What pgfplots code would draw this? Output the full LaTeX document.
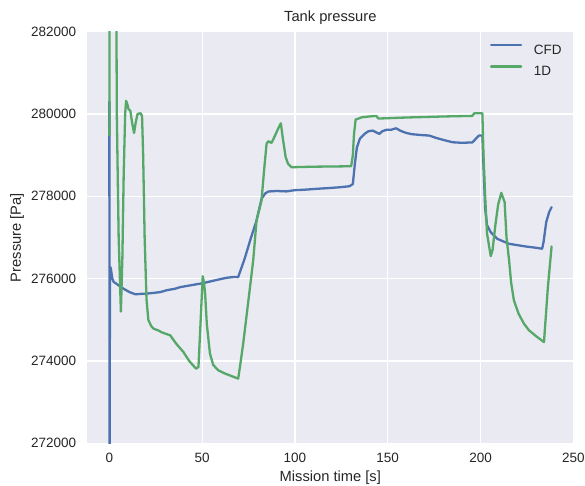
\documentclass[border=0pt]{standalone}
\usepackage{fontspec}
\setmainfont{Liberation Sans}
\usepackage{pgfplots}
\pgfplotsset{compat=1.18}
\definecolor{sbblue}{HTML}{4C72B0}
\definecolor{sbgreen}{HTML}{55A868}
\definecolor{sbbg}{HTML}{EAEAF2}
\definecolor{sbtext}{HTML}{262626}
\begin{document}
\begin{tikzpicture}
\begin{axis}[
  name=ax,
  scale only axis,
  width=486pt, height=411.6pt,
  xmin=-11.9, xmax=250, ymin=272000, ymax=282000,
  axis background/.style={fill=sbbg},
  axis line style={draw=none},
  major tick length=0pt,
  tick style={draw=none},
  grid=major,
  major grid style={white, line width=1.1pt},
  xtick={0,50,100,150,200,250},
  ytick={272000,274000,276000,278000,280000,282000},
  scaled y ticks=false,
  y tick label style={/pgf/number format/fixed, /pgf/number format/1000 sep={}},
  /pgf/number format/assume math mode=true,
  tick label style={font=\fontsize{13.5}{16}\selectfont, text=sbtext, inner sep=0pt},
  x tick label style={anchor=north, yshift=-9.5pt},
  y tick label style={anchor=east, xshift=-11pt},
  legend style={draw=none, fill=none, at={(1,1)}, anchor=north east, xshift=-11.6pt, yshift=-12.5pt,
    inner sep=0pt, outer sep=0pt, row sep=9.6pt, font=\fontsize{13.5}{16}\selectfont,
    nodes={inner sep=0pt, text=sbtext},
    /tikz/every odd column/.style={column sep=11.7pt}},
  legend cell align=left,
  legend image code/.code={\draw[#1] (0pt,4.8pt) -- (30pt,4.8pt);},
]
\addplot[sbblue, line width=2.3pt, line join=round, line cap=round] coordinates {
(0,280300) (0.05,268000) (0.3,276100) (0.5,276280) (0.8,276250) (1.1,276150) (1.6,276000)
(2.3,275920) (4,275870) (6,275800) (8.6,275730) (11,275670) (14,275620) (17,275630)
(19.3,275634) (23,275650) (27.4,275673) (31,275720) (35.4,275755) (38.1,275794) (44,275840)
(50.6,275892) (57,275960) (63.2,276022) (67,276040) (69.4,276037) (73,276500) (76,276950)
(79.3,277413) (82,277940) (84,278070) (85.6,278117) (90,278130) (95.4,278120) (100,278150)
(105,278160) (111.5,278182) (118,278200) (124,278220) (129.4,278245) (131.2,278300)
(132.3,278800) (133.4,279192) (135,279400) (137.5,279517) (139.5,279580) (141.9,279597)
(143.5,279560) (145.5,279517) (147,279580) (149.1,279614) (152,279620) (154.5,279653)
(157,279590) (159.9,279541) (163,279510) (167,279493) (172.4,279476) (176,279420)
(180,279370) (184.9,279314) (190,279300) (195.6,279310) (197.5,279400) (199.2,279476)
(201,279480) (201.8,278500) (202.5,277700) (203.5,277300) (205.5,277129) (209,276968)
(215.4,276846) (224.3,276782) (230,276750) (233.2,276726) (234,276900) (235.4,277372)
(237,277620) (238.3,277736)
};
\addlegendentry{CFD}
\addplot[sbgreen, line width=2.3pt, line join=round, line cap=round] coordinates {
(0,279480) (0.3,286000) (3.5,286000) (4.0,280000) (5.0,277000) (6.2,275200) (7.0,276500)
(7.7,278500) (8.5,280000) (9.0,280320) (9.6,280250) (10.3,280120) (11.3,280080) (12.2,279800)
(13.3,279540) (14.2,279800) (15.2,280000) (16.8,280020) (17.6,279950) (18.2,279000)
(19,277000) (20,275500) (21,275000) (22.5,274850) (24,274780) (26.5,274740) (28,274700)
(32.8,274622) (36,274420) (39.9,274217) (43,274000) (46.7,273814) (48,273853) (49.2,275000)
(50.3,276060) (51,275900) (51.6,275634) (52.5,274900) (54.2,274178) (56,273900) (58.7,273773)
(62,273700) (66,273630) (69.4,273571) (70.5,273900) (72.1,274420) (75,275500) (77.5,276442)
(79.3,277413) (82,277900) (83.3,278600) (84.7,279274) (85.6,279338) (87.4,279299) (89,279450)
(91,279650) (92.4,279775) (93.5,279400) (95,278950) (96.3,278789) (98.1,278707) (110,278720)
(120,278725) (130.3,278731) (131.2,279000) (131.8,279500) (132.7,279864) (136,279920)
(140,279940) (143.8,279954) (145,279890) (160,279915) (180,279940) (195.6,279955)
(196.6,280017) (201,280017) (201.6,279000) (202.5,278000) (203.5,277100) (205.5,276547)
(206.5,276700) (208,277300) (209.5,277800) (211.2,278085) (213,277857) (214,277000)
(215.4,276442) (216.5,275900) (218,275471) (220.5,275150) (223.4,274906) (226,274750)
(230,274600) (234.2,274459) (236.3,275794) (238.3,276782)
};
\addlegendentry{1D}
\end{axis}
\node[font=\fontsize{14.7}{17}\selectfont, text=sbtext, anchor=base, inner sep=0pt] at ([yshift=10pt]ax.north) {Tank pressure};
\node[font=\fontsize{14.7}{17}\selectfont, text=sbtext, anchor=base, inner sep=0pt] at ([yshift=-37.7pt]ax.south) {Mission time [s]};
\node[font=\fontsize{14.7}{17}\selectfont, text=sbtext, anchor=base, inner sep=0pt, rotate=90] at ([xshift=-66.3pt]ax.west) {Pressure [Pa]};
\path ([xshift=-87.3pt,yshift=-42.7pt]ax.south west) rectangle ([xshift=11.7pt,yshift=31.7pt]ax.north east);
\end{tikzpicture}
\end{document}
